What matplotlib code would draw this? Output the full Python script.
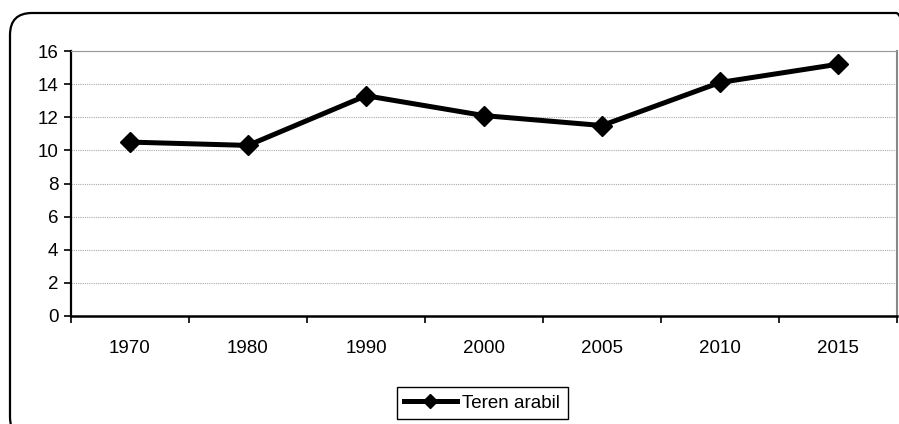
import matplotlib.pyplot as plt
from matplotlib.patches import FancyBboxPatch

# Data
years = ['1970', '1980', '1990', '2000', '2005', '2010', '2015']
teren_arabil = [10.5, 10.3, 13.3, 12.1, 11.5, 14.1, 15.2]
y_ticks = [0, 2, 4, 6, 8, 10, 12, 14, 16]

plt.rcParams['font.family'] = ['Liberation Sans', 'DejaVu Sans']

fig = plt.figure(figsize=(8.99, 4.24), dpi=100)
ax = fig.add_axes([71 / 899, 1 - 316 / 424, 826 / 899, 265 / 424])

# Rounded outer frame (runs off the right and bottom of the image), in inches
frame = FancyBboxPatch((0.10, -0.15), 9.08, 4.24 - 0.13 + 0.15,
                       boxstyle='round,pad=0,rounding_size=0.22',
                       transform=fig.dpi_scale_trans, fill=False,
                       edgecolor='black', linewidth=1.6, clip_on=False)
fig.patches.append(frame)

x = list(range(len(years)))
ax.plot(x, teren_arabil, color='black', linewidth=3.6, marker='D',
        markersize=10, markerfacecolor='black', markeredgecolor='black',
        label='Teren arabil', zorder=3)

ax.set_xlim(-0.5, len(years) - 0.5)
ax.set_ylim(0, 16)
ax.set_yticks(y_ticks)
ax.set_xticks(x)
ax.set_xticklabels(years)
ax.set_xticks([i - 0.5 for i in range(len(years) + 1)], minor=True)
ax.tick_params(axis='x', which='major', length=0, pad=17, labelsize=13.5)
ax.tick_params(axis='x', which='minor', length=5, width=1.2, direction='out')
ax.tick_params(axis='y', length=5, width=1.2, labelsize=13.5, pad=4)

ax.grid(axis='y', color='#aaaaaa', linestyle=(0, (1, 1)), linewidth=0.8)
ax.set_axisbelow(True)

ax.spines['left'].set_linewidth(1.6)
ax.spines['bottom'].set_linewidth(1.8)
ax.spines['top'].set_color('#999999')
ax.spines['right'].set_color('#888888')
ax.spines['right'].set_linewidth(1.5)

leg = ax.legend(loc='center', bbox_to_anchor=(482 / 899, 1 - 403 / 424),
                bbox_transform=fig.transFigure, fontsize=13.5,
                frameon=True, fancybox=False, edgecolor='black',
                framealpha=1, handlelength=2.8, borderpad=0.4,
                handletextpad=0.3, markerscale=0.75)
leg.get_frame().set_linewidth(1.0)

fig.savefig('out.png', dpi=100)
